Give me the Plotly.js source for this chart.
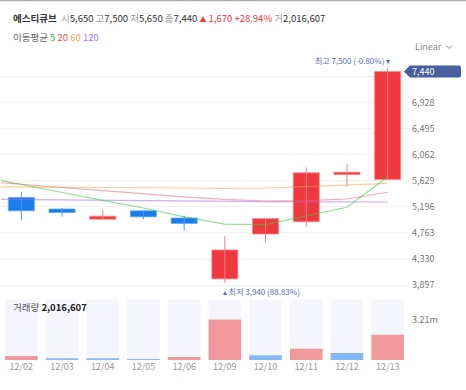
<!DOCTYPE html>
<html>
<head>
<meta charset="utf-8">
<script src="https://cdn.plot.ly/plotly-3.0.1.min.js"></script>
<style>html,body{margin:0;padding:0;background:#fff;}#chart{width:466px;height:390px;}</style>
</head>
<body>
<div id="chart"></div>
<script>
// ---- data ----
const stockName = '에스티큐브';
const dates = ['12/02','12/03','12/04','12/05','12/06','12/09','12/10','12/11','12/12','12/13'];
const opens  = [5350, 5160, 4990, 5130, 5010, 4000, 4745, 4950, 5730, 5650];
const highs  = [5440, 5180, 5140, 5130, 5050, 4710, 5000, 5850, 5900, 7500];
const lows   = [4980, 5030, 4990, 4990, 4800, 3940, 4610, 4865, 5530, 5650];
const closes = [5130, 5100, 5040, 5030, 4920, 4480, 5000, 5760, 5770, 7440];
const volumes = [321000, 136000, 136000, 80000, 240000, 3240000, 377000, 907000, 562000, 2016607];
const volumeDir = ['up','down','down','down','up','up','down','up','down','up'];
// moving averages, first value = previous trading day (off-screen, left)
const maX = [-1,0,1,2,3,4,5,6,7,8,9];
const ma5   = [5700, 5561, 5433, 5304, 5176, 5030, 4910, 4900, 5040, 5188, 5691];
const ma20  = [5626, 5567, 5516, 5465, 5412, 5359, 5320, 5292, 5297, 5325, 5437];
const ma60  = [5530, 5528, 5523, 5518, 5513, 5508, 5503, 5508, 5529, 5558, 5586];
const ma120 = [5323, 5317, 5309, 5300, 5292, 5284, 5281, 5281, 5279, 5277, 5276];
const priceTicks = [3897, 4330, 4763, 5196, 5629, 6062, 6495, 6928, 7361];
const priceTickText = ['3,897', '4,330', '4,763', '5,196', '5,629', '6,062', '6,495', '6,928', '']; // 7,361 hidden under last-price tag
const volTicks = [3210000];
const volTickText = ['3.21m'];

// ---- styles ----
const FONT = '"Noto Sans CJK KR", "Noto Sans", sans-serif';
const RED = '#f0393e', BLUE = '#1a7de9';
const RED_W = '#f27f83', BLUE_W = '#4f9df0';
const VRED = '#f2999c', VBLUE = '#84b9f5';
const W = 466, H = 390;
const M = {l: 1, r: 58, t: 50, b: 30};
const PW = W - M.l - M.r, PH = H - M.t - M.b;
const priceDomain = [0.2097, 1];
const priceRange = [3733, 7797];
const volDomain = [0, 0.1958];
const volRange = [0, 4871000];

const px = x => (x - M.l) / PW;
const py = y => (H - M.b - y) / PH;
const priceToPaper = v => priceDomain[0] + (v - priceRange[0]) / (priceRange[1] - priceRange[0]) * (priceDomain[1] - priceDomain[0]);
const fmt = n => n.toLocaleString('en-US');

const idx = dates.map((d, i) => i);
const up = idx.map(i => closes[i] >= opens[i]);

// wicks
function wick(sel) {
  const xs = [], ys = [];
  idx.forEach(i => { if (up[i] === sel) { xs.push(i, i, null); ys.push(lows[i], highs[i], null); } });
  return {x: xs, y: ys};
}
const wu = wick(true), wd = wick(false);

const traces = [
  {type: 'bar', x: idx, y: volumes, width: 0.8, yaxis: 'y2',
   marker: {color: volumeDir.map(d => d === 'up' ? VRED : VBLUE)}, hoverinfo: 'skip'},
  {type: 'scatter', mode: 'lines', x: wu.x, y: wu.y, line: {color: RED_W, width: 1}, hoverinfo: 'skip'},
  {type: 'scatter', mode: 'lines', x: wd.x, y: wd.y, line: {color: BLUE_W, width: 1}, hoverinfo: 'skip'},
  {type: 'bar', x: idx, base: idx.map(i => Math.min(opens[i], closes[i])),
   y: idx.map(i => Math.abs(closes[i] - opens[i])), width: 0.64,
   marker: {color: idx.map(i => up[i] ? RED : BLUE),
            line: {color: idx.map(i => up[i] ? '#f6888b' : '#62a8f2'), width: 0.8}}, hoverinfo: 'skip'},
  {type: 'scatter', mode: 'lines', x: maX, y: ma120, line: {color: '#a56cf2', width: 1.2}, opacity: 0.55, hoverinfo: 'skip'},
  {type: 'scatter', mode: 'lines', x: maX, y: ma60, line: {color: '#f6a24e', width: 1.2}, opacity: 0.55, hoverinfo: 'skip'},
  {type: 'scatter', mode: 'lines', x: maX, y: ma20, line: {color: '#f05a62', width: 1.2}, opacity: 0.5, hoverinfo: 'skip'},
  {type: 'scatter', mode: 'lines', x: maX, y: ma5, line: {color: '#3cc43c', width: 1.2}, opacity: 0.55, hoverinfo: 'skip'}
];

const last = dates.length - 1;
const prevClose = closes[last - 1];
const chg = closes[last] - prevClose;
const pct = (chg / prevClose * 100).toFixed(2);
const maxHigh = Math.max(...highs), minLow = Math.min(...lows);
const iHigh = highs.indexOf(maxHigh), iLow = lows.indexOf(minLow);
const pctFromHigh = ((closes[last] - maxHigh) / maxHigh * 100).toFixed(2);
const pctFromLow = ((closes[last] - minLow) / minLow * 100).toFixed(2);

const g = s => '<span style="color:#999">' + s + '</span>';
const headerText = '<b>' + stockName + '</b>  ' +
  g('시') + fmt(opens[last]) + ' ' + g('고') + fmt(highs[last]) + ' ' + g('저') + fmt(lows[last]) + ' ' +
  g('종') + fmt(closes[last]) + ' <span style="color:' + RED + '"><span style="font-size:7px">▲</span> ' + fmt(chg) + ' +' + pct + '%</span> ' +
  g('거') + fmt(volumes[last]);
const maText = '<span style="color:#666">이동평균</span> <span style="color:#36b936">5</span> <span style="color:#f5525a">20</span> <span style="color:#f5a34a">60</span> <span style="color:#a77bf3">120</span>';

const shapes = [];
idx.forEach(i => shapes.push({type: 'rect', xref: 'x', yref: 'y2', x0: i - 0.4, x1: i + 0.4, y0: volRange[0], y1: volRange[1],
  fillcolor: '#f5f6fb', line: {width: 0}, layer: 'below'}));
shapes.push({type: 'line', xref: 'paper', yref: 'paper', x0: px(0), x1: px(W), y0: py(0.5), y1: py(0.5), line: {color: '#aaaaaa', width: 1.5}});
// last price tag
shapes.push({type: 'path', xref: 'paper', yref: 'paper', xsizemode: 'pixel', ysizemode: 'pixel',
  xanchor: 1, yanchor: priceToPaper(closes[last]),
  path: 'M -4,0 L 2,-6 L 51,-6 Q 53,-6 53,-4 L 53,4 Q 53,6 51,6 L 2,6 Z',
  fillcolor: '#4a5f9d', line: {width: 0}});
// chevron of "Linear"
shapes.push({type: 'path', xref: 'paper', yref: 'paper', xsizemode: 'pixel', ysizemode: 'pixel',
  xanchor: px(449), yanchor: py(47),
  path: 'M -3,1.5 L 0,-1.5 L 3,1.5', line: {color: '#888', width: 1}});

const annotations = [
  {xref: 'paper', yref: 'paper', x: px(11), y: py(18), xanchor: 'left', yanchor: 'middle', showarrow: false,
   text: headerText, font: {family: FONT, size: 9.5, color: '#333'}},
  {xref: 'paper', yref: 'paper', x: px(11), y: py(37), xanchor: 'left', yanchor: 'middle', showarrow: false,
   text: maText, font: {family: FONT, size: 9.5, color: '#666'}},
  {xref: 'paper', yref: 'paper', x: px(444), y: py(47), xanchor: 'right', yanchor: 'middle', showarrow: false,
   text: 'Linear', font: {family: FONT, size: 9, color: '#888'}},
  {xref: 'paper', yref: 'paper', x: px(11), y: py(307), xanchor: 'left', yanchor: 'middle', showarrow: false,
   text: '<span style="color:#555">거래량</span> <b>' + fmt(volumes[last]) + '</b>', font: {family: FONT, size: 9.5, color: '#222'}},
  {xref: 'x', yref: 'y', x: iHigh, y: maxHigh, xanchor: 'right', yanchor: 'bottom', xshift: 4, yshift: 0, showarrow: false,
   text: '최고 ' + fmt(maxHigh) + ' (' + pctFromHigh + '%) ▾', font: {family: FONT, size: 8, color: '#5a6eab'}},
  {xref: 'x', yref: 'y', x: iLow, y: minLow, xanchor: 'left', yanchor: 'top', xshift: -4, yshift: -1, showarrow: false,
   text: '▴ 최저 ' + fmt(minLow) + ' (' + pctFromLow + '%)', font: {family: FONT, size: 8, color: '#5a6eab'}},
  {xref: 'paper', yref: 'paper', x: 1, y: priceToPaper(closes[last]), xanchor: 'left', yanchor: 'middle', xshift: 2, showarrow: false,
   text: fmt(closes[last]), font: {family: FONT, size: 9, color: '#ffffff'}}
];

const layout = {
  width: W, height: H, margin: M, paper_bgcolor: '#fff', plot_bgcolor: '#fff',
  showlegend: false, barmode: 'overlay', hovermode: false,
  font: {family: FONT, size: 9, color: '#777'},
  xaxis: {range: [-0.5, 9.5], tickvals: idx, ticktext: dates, showgrid: false, zeroline: false, showline: false,
          ticks: '', anchor: 'y2', tickfont: {family: FONT, size: 9, color: '#999'}, fixedrange: true},
  yaxis: {domain: priceDomain, range: priceRange, side: 'right', tickvals: priceTicks, ticktext: priceTickText,
          gridcolor: '#f1f1f1', gridwidth: 1, zeroline: false, showline: false, ticks: '',
          tickfont: {family: FONT, size: 9, color: '#777'}, ticklabelstandoff: 3},
  yaxis2: {domain: volDomain, range: volRange, side: 'right', tickvals: volTicks, ticktext: volTickText,
           showgrid: false, zeroline: false, showline: false, ticks: '',
           tickfont: {family: FONT, size: 9, color: '#777'}, ticklabelstandoff: 3},
  shapes: shapes, annotations: annotations
};

Plotly.newPlot('chart', traces, layout, {displayModeBar: false, staticPlot: true});
</script>
</body>
</html>
